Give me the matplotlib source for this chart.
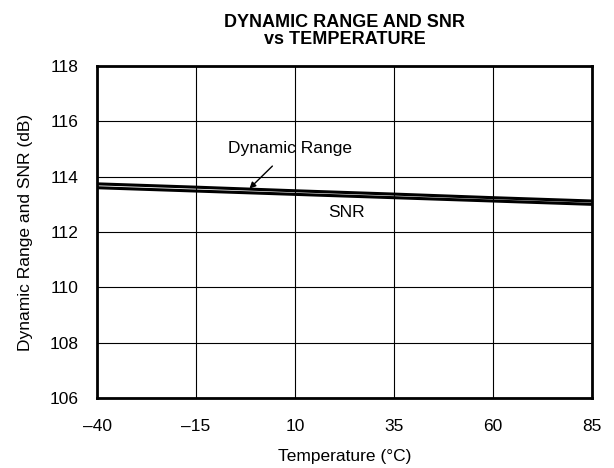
import matplotlib
matplotlib.use("Agg")
import matplotlib.pyplot as plt

plt.rcParams['font.family'] = ['Liberation Sans', 'DejaVu Sans']

# data
temperature = [-40, -15, 10, 35, 60, 85]
dynamic_range = [113.74, 113.62, 113.49, 113.37, 113.24, 113.12]
snr = [113.60, 113.48, 113.36, 113.24, 113.12, 113.00]
x_ticks = [-40, -15, 10, 35, 60, 85]
x_tick_labels = ["\u201340", "\u201315", "10", "35", "60", "85"]
y_ticks = [106, 108, 110, 112, 114, 116, 118]

fig = plt.figure(figsize=(6.14, 4.68), dpi=100)
ax = fig.add_axes([0.158, 0.1496, 0.806, 0.7094])

ax.plot(temperature, dynamic_range, color="black", lw=2.2)
ax.plot(temperature, snr, color="black", lw=2.2)

ax.set_xlim(-40, 85)
ax.set_ylim(106, 118)
ax.set_xticks(x_ticks)
ax.set_xticklabels(x_tick_labels)
ax.set_yticks(y_ticks)
ax.grid(True, color="black", lw=0.8)
ax.tick_params(length=0, labelsize=12.5)
ax.tick_params(axis="x", pad=15)
ax.tick_params(axis="y", pad=13)
for s in ax.spines.values():
    s.set_linewidth(2)

ax.set_xlabel("Temperature (\u00b0C)", fontsize=12.5, labelpad=11)
ax.set_ylabel("Dynamic Range and SNR (dB)", fontsize=12.5, labelpad=12)
ax.set_title("DYNAMIC RANGE AND SNR\nvs TEMPERATURE", fontsize=13,
             fontweight="bold", linespacing=1.0, pad=16)

ax.annotate("Dynamic Range", xy=(-1.5, 113.57), xytext=(8.7, 115.0),
            ha="center", va="center", fontsize=12.5,
            arrowprops=dict(arrowstyle="-|>", color="black", lw=1,
                            shrinkA=7, shrinkB=0, mutation_scale=9))
ax.text(23.1, 112.69, "SNR", ha="center", va="center", fontsize=12.5)

fig.savefig("out.png", dpi=100)
